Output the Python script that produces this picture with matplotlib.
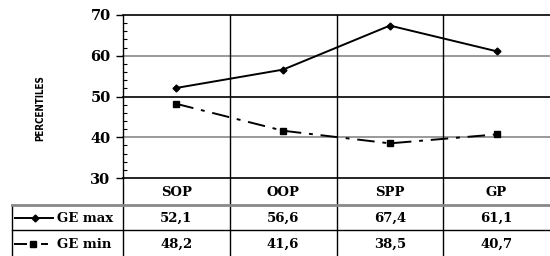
import matplotlib
matplotlib.use("Agg")
import matplotlib.pyplot as plt
from matplotlib.lines import Line2D

categories = ["SOP", "OOP", "SPP", "GP"]
ge_max = [52.1, 56.6, 67.4, 61.1]
ge_min = [48.2, 41.6, 38.5, 40.7]
series_names = ["GE max", "GE min"]
yticks = [30, 40, 50, 60, 70]

W, H = 550, 256
fig = plt.figure(figsize=(W / 100, H / 100), dpi=100)
fig.patch.set_facecolor("white")

def fx(px):
    return px / W

def fy(py):
    return 1 - py / H

serif = ["DejaVu Serif"]
FS = 9.5

# main plot axes
L, R, T, B = 123, 550, 15, 178
ax = fig.add_axes([fx(L), fy(B), fx(R) - fx(L), fy(T) - fy(B)])
n = len(categories)
ax.set_xlim(0, n)
ax.set_ylim(30, 70)
xs = [i + 0.5 for i in range(n)]

for v in yticks:
    col = "#888888" if v in (40, 60) else "black"
    ax.axhline(v, color=col, lw=1.2, zorder=1, clip_on=False)
for i in range(1, n):
    ax.axvline(i, color="black", lw=1.0, zorder=1)

DASH = (9, 4, 2, 4)
ax.plot(xs, ge_max, color="black", lw=1.4, marker="D", ms=3.5, zorder=3)
ax.plot(xs, ge_min, color="black", lw=1.4, marker="s", ms=4, zorder=3,
        dashes=DASH)

for s in ["top", "right", "bottom"]:
    ax.spines[s].set_visible(False)
ax.spines["left"].set_linewidth(1.0)
ax.set_xticks([])
ax.set_yticks(yticks)
ax.set_yticklabels([str(v) for v in yticks], fontfamily=serif,
                   fontweight="bold", fontsize=10.5)
ax.set_yticks(range(30, 71, 2), minor=True)
ax.tick_params(axis="y", which="major", direction="out", length=5, width=1, pad=4)
ax.tick_params(axis="y", which="minor", direction="in", length=3, width=0.8)
ax.set_facecolor("none")

fig.text(fx(40), fy(108), "PERCENTILES", rotation=90, ha="center", va="center",
         fontsize=7, fontweight="heavy",
         family=["Liberation Sans Narrow", "DejaVu Sans"], fontstretch="condensed")

# table axes in pixel coordinates
tax = fig.add_axes([0, 0, 1, fy(B)])
tax.set_xlim(0, W)
tax.set_ylim(H, B)
tax.axis("off")

def cx(xdata):
    return L + xdata / n * (R - L)

row_top, row1, row2, row_bot = B, 205, 230, 256
for i in range(1, n):
    tax.plot([cx(i)] * 2, [row_top, row_bot], color="black", lw=1.0)
tax.plot([L, L], [row_top, row_bot], color="black", lw=1.0)
tax.plot([12, 12], [row1, row_bot], color="black", lw=1.0)
tax.plot([12, R], [row1, row1], color="#888888", lw=2.0)
tax.plot([12, R], [row2, row2], color="black", lw=1.0)

for i, c in enumerate(categories):
    tax.text(cx(xs[i]), (row_top + row1) / 2 + 1, c, ha="center", va="center",
             fontfamily=serif, fontweight="bold", fontsize=FS)
for vals, (ya, yb) in [(ge_max, (row1, row2)), (ge_min, (row2, row_bot))]:
    for i, v in enumerate(vals):
        tax.text(cx(xs[i]), (ya + yb) / 2 + 1, f"{v:.1f}".replace(".", ","),
                 ha="center", va="center", fontfamily=serif,
                 fontweight="bold", fontsize=FS)

# legend keys
ym1 = (row1 + row2) / 2
ym2 = (row2 + row_bot) / 2 + 1
tax.add_line(Line2D([15, 53], [ym1, ym1], color="black", lw=1.4, clip_on=False))
tax.add_line(Line2D([35], [ym1], color="black", marker="D", ms=3.5,
                    linestyle="none", clip_on=False))
tax.add_line(Line2D([15, 26], [ym2, ym2], color="black", lw=1.4, clip_on=False))
tax.add_line(Line2D([33], [ym2], color="black", marker="s", ms=4,
                    linestyle="none", clip_on=False))
tax.add_line(Line2D([42, 47], [ym2, ym2], color="black", lw=1.4, clip_on=False))
tax.text(57, ym1 + 1, series_names[0], ha="left", va="center", fontfamily=serif,
         fontweight="bold", fontsize=FS)
tax.text(57, ym2, series_names[1], ha="left", va="center", fontfamily=serif,
         fontweight="bold", fontsize=FS)

fig.savefig("out.png", dpi=100, facecolor="white")
